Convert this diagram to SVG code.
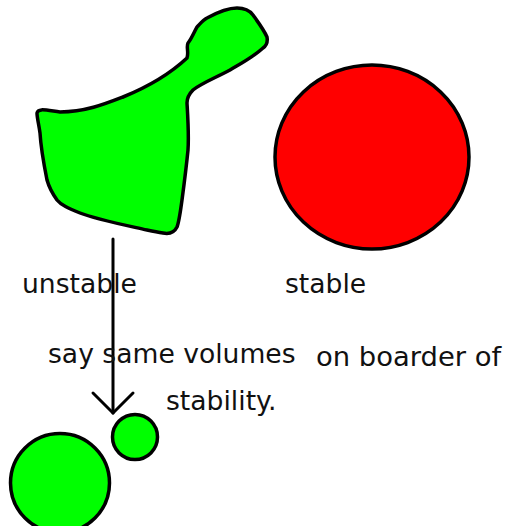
<svg xmlns="http://www.w3.org/2000/svg" width="506" height="526" viewBox="0 0 506 526">
<style>
.shape{stroke:#000;stroke-width:3.5;stroke-linejoin:round}
.g{fill:#00ff00}
.r{fill:#ff0000}
.t{font-family:"DejaVu Sans",sans-serif;font-size:26.6px;fill:#111}
.line{stroke:#000;stroke-width:3;fill:none;stroke-linecap:round;stroke-linejoin:round}
</style>
<rect width="506" height="526" fill="#fff"/>
<g id="blob">
<path class="shape g" d="M37,113 C38,108 45,110 60,112 C85,112 105,104 123,97 C150,86 172,72 187,58 C189,52 186,47 188,43 C192,38 195,30 197,27 C200,24 203,20 207,18 C218,12 228,8 237,8 C245,8 250,11 253,15 C258,22 264,30 267,37 C268,43 266,46 263,48 C252,58 240,64 230,70 C215,78 200,84 193,90 C188,95 187,99 187,103 C188,120 189,135 188,150 C186,170 184,185 182,200 C180,215 179,222 177,227 C174,233 168,234 163,233 C157,232 152,231 147,230 C120,224 95,219 80,213 C68,208 61,205 57,200 C52,193 49,187 47,180 C44,165 41,150 40,133 C39,125 37,118 37,113 Z"/>
</g>
<g id="stable-circle">
<ellipse class="shape r" cx="372" cy="157" rx="97" ry="92"/>
</g>
<g id="small-circle">
<circle class="shape g" cx="135" cy="437" r="22.5"/>
</g>
<g id="large-circle">
<circle class="shape g" cx="60" cy="483" r="49.5"/>
</g>
<g id="connectors">
<path class="line" d="M113,239 L113,413"/>
<path class="line" d="M93,393 L113,413 L133,393"/>
</g>
<g id="labels">
<text class="t" x="22" y="293">unstable</text>
<text class="t" x="285" y="293">stable</text>
<text class="t" x="48" y="363">say same volumes</text>
<text class="t" x="316" y="366" style="font-size:27.4px">on boarder of</text>
<text class="t" x="166" y="410">stability.</text>
</g>
</svg>
